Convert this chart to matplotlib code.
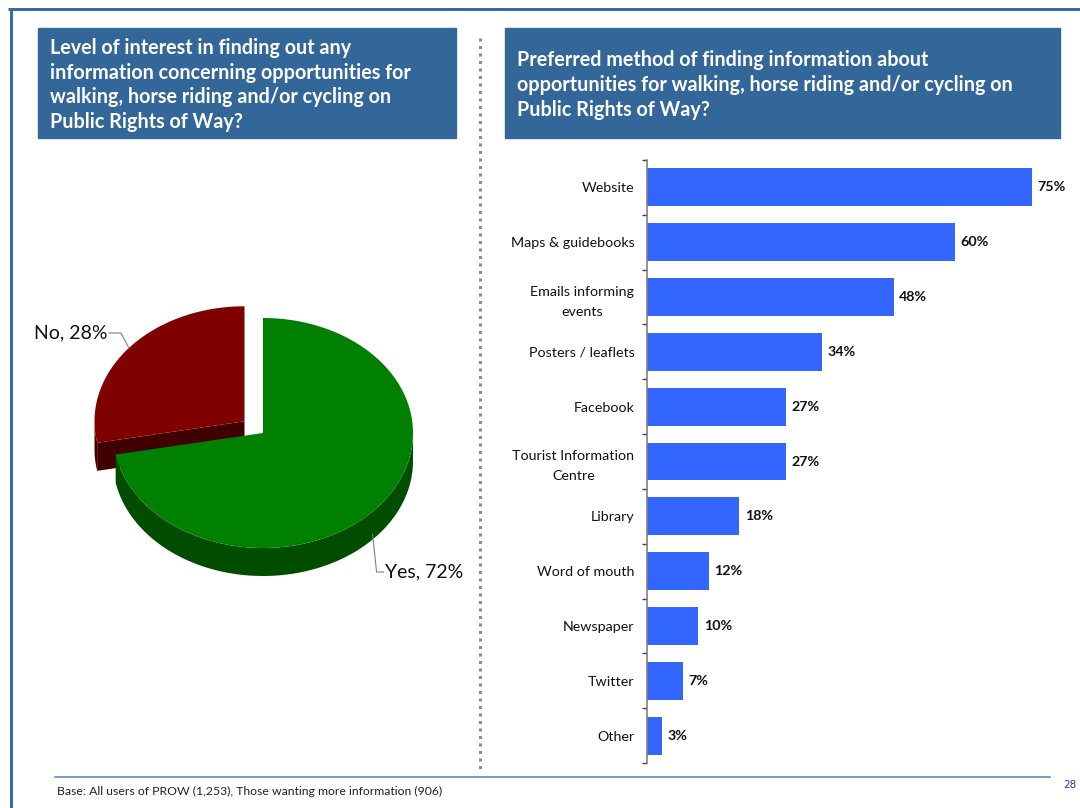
import numpy as np
import matplotlib.pyplot as plt
from matplotlib.patches import Polygon, Rectangle

plt.rcParams['font.family'] = ['Lato', 'DejaVu Sans']

# Pie data
pie_labels = ['Yes', 'No']
pie_shares = [72, 28]
pie_top = ['#008000', '#800000']
pie_side = ['#004d00', '#400000']

# Bar data
methods = ['Website', 'Maps & guidebooks', 'Emails informing\nevents', 'Posters / leaflets',
           'Facebook', 'Tourist Information\nCentre', 'Library', 'Word of mouth',
           'Newspaper', 'Twitter', 'Other']
method_pct = [75, 60, 48, 34, 27, 27, 18, 12, 10, 7, 3]

left_title = ('Level of interest in finding out any\ninformation concerning opportunities for\n'
              'walking, horse riding and/or cycling on\nPublic Rights of Way?')
right_title = ('Preferred method of finding information about\nopportunities for walking, '
               'horse riding and/or cycling on\nPublic Rights of Way?')
footer = 'Base: All users of PROW (1,253), Those wanting more information (906)'
page_no = '28'

W, H = 1080, 808
fig = plt.figure(figsize=(W / 100, H / 100), dpi=100)

# background canvas in pixel units
bg = fig.add_axes([0, 0, 1, 1])
bg.set_xlim(0, W)
bg.set_ylim(H, 0)
bg.axis('off')

px = 72 / 100  # points per pixel

# page frame
bg.plot([8, W], [8.5, 8.5], color='#3a6aa0', lw=3 * px, solid_capstyle='butt')
bg.plot([10.5, 10.5], [8, H], color='#3a6aa0', lw=3 * px, solid_capstyle='butt')
bg.plot([55, 1050], [777, 777], color='#4f7fb5', lw=1.5 * px)

# dotted divider
bg.plot([480, 480], [38, 770], color='#8c8c8c', lw=3 * px, linestyle=(0, (1, 1.5)))

# title boxes
bg.add_patch(Rectangle((38, 28), 418, 110, color='#336699'))
bg.add_patch(Rectangle((505, 28), 555, 110, color='#336699'))
bg.text(50, 85, left_title, color='white', fontsize=14.2, fontweight='bold',
        va='center', ha='left', linespacing=1.29)
bg.text(517, 85, right_title, color='white', fontsize=14.2, fontweight='bold',
        va='center', ha='left', linespacing=1.29)

# footer
bg.text(57, 791, footer, fontsize=8.8, va='center', ha='left', color='#222222')
bg.text(1076, 785, page_no, fontsize=7.5, va='center', ha='right', color='#3333aa',
        family='DejaVu Sans')

# 3D pie, slices clockwise from 12 o'clock
cx, cy, rx, ry, depth = 263, 433, 150, 115, 28
explode = [0, 24]
total = sum(pie_shares)


def ell(x0, y0, t):
    t = np.radians(t)
    return np.column_stack([x0 + rx * np.cos(t), y0 - ry * np.sin(t)])


# angular range of every slice (counter-clockwise start/end in degrees)
ranges = []
start = 90.0
for share in pie_shares:
    sweep = share / total * 360
    a = (start - sweep) % 360
    ranges.append((a, a + sweep))
    start -= sweep


def offset(i):
    a, b = ranges[i]
    mid = np.radians((a + b) / 2)
    return (cx + explode[i] * np.cos(mid),
            cy - explode[i] * np.sin(mid) * ry / rx)


# draw the exploded (back) slice first, then the main one
order = sorted(range(len(pie_shares)), key=lambda i: -explode[i])
for i in order:
    a, b = ranges[i]
    ox, oy = offset(i)

    # radial cut faces that turn towards the viewer
    for ang, normal in [(a, a - 90), (b, b + 90)]:
        if np.sin(np.radians(normal)) < -0.1:
            e = ell(ox, oy, ang)[0]
            quad = [(ox, oy), tuple(e), (e[0], e[1] + depth), (ox, oy + depth)]
            bg.add_patch(Polygon(quad, closed=True, color=pie_side[i], ec='none'))

    # outer side wall, front half only
    lo, hi = max(a, 180), min(b, 360)
    if hi > lo:
        t = np.linspace(lo, hi, 120)
        top = ell(ox, oy, t)
        bot = top[::-1] + [0, depth]
        bg.add_patch(Polygon(np.vstack([top, bot]), closed=True, color=pie_side[i], ec='none'))

    # top face
    t = np.linspace(a, b, 240)
    face = np.vstack([[ox, oy], ell(ox, oy, t)])
    bg.add_patch(Polygon(face, closed=True, color=pie_top[i], ec='none'))

# pie labels with leader lines
for i, share in enumerate(pie_shares):
    a, b = ranges[i]
    mid = (a + b) / 2
    ox, oy = offset(i)
    p = ell(ox, oy, mid)[0]
    txt = f'{pie_labels[i]}, {share}%'
    if np.sin(np.radians(mid)) < 0:
        p = p + [-6, depth]
        bg.plot([p[0], p[0] + 4, p[0] + 11], [p[1], 572, 572], color='#808080', lw=0.8)
        bg.text(p[0] + 12, 572, txt, fontsize=14, va='center', ha='left', color='#111111')
    else:
        bg.plot([p[0], p[0] - 8, p[0] - 20], [p[1], 333, 333], color='#808080', lw=0.8)
        bg.text(p[0] - 21, 333, txt, fontsize=14, va='center', ha='right', color='#111111')

# bar chart
ax = fig.add_axes([647 / W, 1 - 763 / H, 411 / W, 603 / H])
pos = np.arange(len(methods))
ax.barh(pos, method_pct, height=0.69, color='#3366ff')
ax.set_xlim(0, 80)
ax.set_ylim(len(methods) - 0.5, -0.5)
ax.set_facecolor('none')
for s in ['top', 'right', 'bottom']:
    ax.spines[s].set_visible(False)
ax.spines['left'].set_color('#808080')
ax.spines['left'].set_linewidth(1.2)
ax.set_xticks([])
ax.set_yticks(np.arange(len(methods) + 1) - 0.5)
ax.set_yticklabels([])
ax.tick_params(axis='y', which='major', length=3.5, width=1, color='#404040')
ax.set_yticks(pos, minor=True)
ax.set_yticklabels(methods, minor=True, fontsize=10.3, color='#111111')
ax.tick_params(axis='y', which='minor', length=0, pad=9)
for lbl in ax.get_yticklabels(minor=True):
    lbl.set_multialignment('center')
    lbl.set_linespacing(1.75)
for y, v in zip(pos, method_pct):
    ax.annotate(f'{v}%', (v, y), xytext=(4, 0), textcoords='offset points',
                va='center', ha='left', fontsize=10.3, fontweight='bold', color='#111111')

fig.savefig('out.png', dpi=100)
